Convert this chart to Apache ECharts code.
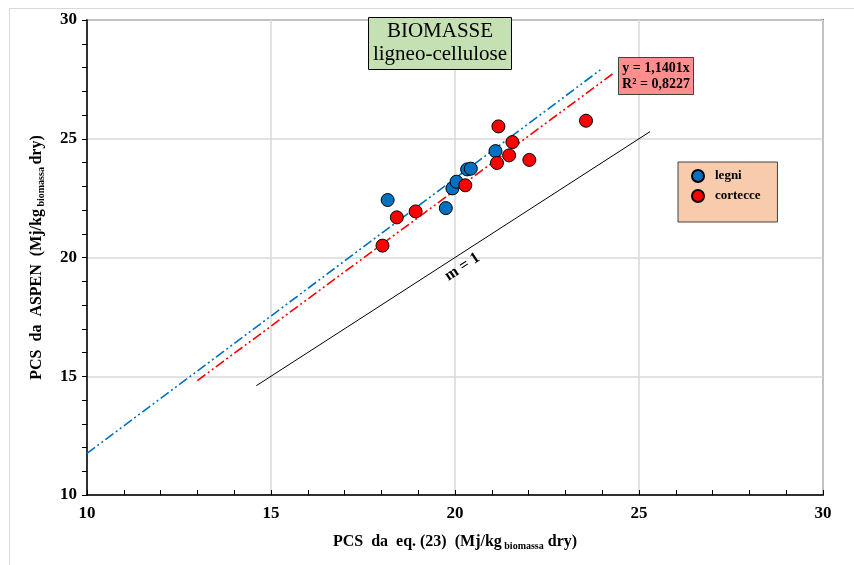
<!DOCTYPE html>
<html>
<head>
<meta charset="utf-8">
<script src="https://cdn.jsdelivr.net/npm/echarts@6/dist/echarts.min.js"></script>
<style>html,body{margin:0;padding:0;background:#fff}#c{width:854px;height:565px}</style>
</head>
<body>
<div id="c"></div>
<script>
// ---- data ----
const legniData = [[18.17,22.42],[19.75,22.08],[19.93,22.91],[20.04,23.19],[20.33,23.71],[20.43,23.74],[21.10,24.48]];
const corteccieData = [[18.03,20.50],[18.42,21.69],[18.93,21.94],[20.28,23.04],[21.14,23.98],[21.47,24.30],[21.56,24.86],[21.18,25.52],[22.02,24.11],[23.56,25.76]];
const trendLegni = [[10,11.75],[23.95,27.90]];
const trendCortecce = [[13,14.82],[24.3,27.75]];
const identityLine = [[14.6,14.6],[25.3,25.3]];
const seriesNames = ['legni','cortecce'];
const titleLines = ['BIOMASSE','ligneo-cellulose'];
const eqLines = ['y = 1,1401x','R² = 0,8227'];
const identityLabel = 'm = 1';
const identityLabelPos = [20.2, 19.6];

const serif = 'Liberation Serif';
const chart = echarts.init(document.getElementById('c'));
const dashDot2 = [10,3,2,3,2,3];

chart.setOption({
  animation:false,
  backgroundColor:'#fff',
  grid:{left:87,right:31,top:20,bottom:70,show:true,borderColor:'#7f7f7f',borderWidth:2,backgroundColor:'transparent'},
  legend:{
    data:seriesNames, orient:'vertical', left:678, top:162,
    padding:[7,17,19,13], itemGap:6, itemWidth:12, itemHeight:12,
    backgroundColor:'#f8cbad', borderColor:'#404040', borderWidth:1,
    textStyle:{fontFamily:serif,fontWeight:'bold',fontSize:13,color:'#000',padding:[0,0,0,6]}
  },
  xAxis:{
    type:'value',min:10,max:30,interval:5,
    name:'PCS  da  eq. (23)  (Mj/kg{s| biomassa} dry)',nameLocation:'middle',nameGap:38,
    nameTextStyle:{fontFamily:serif,fontWeight:'bold',fontSize:16,color:'#000',
      rich:{s:{fontFamily:serif,fontWeight:'bold',fontSize:10,color:'#000',padding:[8,0,0,0]}}},
    axisLine:{show:true,onZero:false,lineStyle:{color:'#000',width:1.5}},
    axisTick:{show:true,inside:true,length:5,lineStyle:{color:'#000'}},
    minorTick:{show:true,splitNumber:5,length:5,lineStyle:{color:'#000'}},
    splitLine:{show:true,lineStyle:{color:'#d9d9d9',width:1.5}},
    axisLabel:{fontFamily:serif,fontWeight:'bold',fontSize:17,color:'#000',margin:10}
  },
  yAxis:{
    type:'value',min:10,max:30,interval:5,
    name:'PCS  da  ASPEN  (Mj/kg{s| biomassa }dry)',nameLocation:'middle',nameGap:41,
    nameTextStyle:{fontFamily:serif,fontWeight:'bold',fontSize:16,color:'#000',
      rich:{s:{fontFamily:serif,fontWeight:'bold',fontSize:10,color:'#000',padding:[8,0,0,0]}}},
    axisLine:{show:true,onZero:false,lineStyle:{color:'#000',width:1.5}},
    axisTick:{show:true,inside:false,length:5,lineStyle:{color:'#000'}},
    minorTick:{show:true,splitNumber:5,length:5,lineStyle:{color:'#000'}},
    splitLine:{show:true,lineStyle:{color:'#d9d9d9',width:1.5}},
    axisLabel:{fontFamily:serif,fontWeight:'bold',fontSize:17,color:'#000',margin:10}
  },
  series:[
    {type:'line',data:identityLine,symbol:'none',lineStyle:{color:'#000',width:1},silent:true,z:1},
    {type:'line',data:trendLegni,symbol:'none',lineStyle:{color:'#0070c0',width:1.6,type:dashDot2},silent:true,z:2},
    {type:'line',data:trendCortecce,symbol:'none',lineStyle:{color:'#ff0000',width:1.6,type:dashDot2},silent:true,z:2},
    {name:seriesNames[0],type:'scatter',data:legniData,symbol:'circle',symbolSize:13,
      itemStyle:{color:'#0070c0',borderColor:'#000',borderWidth:1,opacity:1},z:5},
    {name:seriesNames[1],type:'scatter',data:corteccieData,symbol:'circle',symbolSize:13,
      itemStyle:{color:'#ff0000',borderColor:'#000',borderWidth:1,opacity:1},z:5}
  ]
});

const lp = chart.convertToPixel({gridIndex:0}, identityLabelPos);
chart.setOption({
  graphic:[
    {type:'rect',shape:{x:9.5,y:8.5,width:900,height:600},style:{fill:'none',stroke:'#d9d9d9',lineWidth:1},z:0,silent:true},
    {type:'rect',shape:{x:368.5,y:17.5,width:143,height:52},style:{fill:'#c5e0b3',stroke:'#000',lineWidth:1},z:10},
    {type:'text',x:440,y:43,style:{text:titleLines.join('\n'),font:'21px "Liberation Serif"',fill:'#000',align:'center',verticalAlign:'middle',lineHeight:23},z:11},
    {type:'rect',shape:{x:618.5,y:57.5,width:75,height:37},style:{fill:'#ff8f8f',stroke:'#404040',lineWidth:1},z:10},
    {type:'text',x:656,y:76,style:{text:eqLines.join('\n'),font:'bold 14px "Liberation Serif"',fill:'#000',align:'center',verticalAlign:'middle',lineHeight:16},z:11},
    {type:'text',x:lp[0],y:lp[1],rotation:33*Math.PI/180,style:{text:identityLabel,font:'bold 16px "Liberation Serif"',fill:'#000',align:'center',verticalAlign:'middle'},z:11}
  ]
});
</script>
</body>
</html>
